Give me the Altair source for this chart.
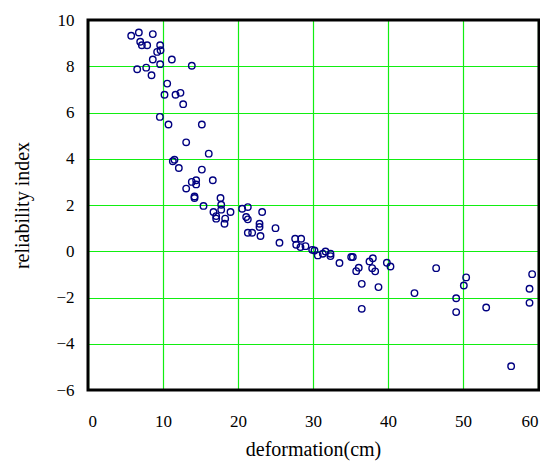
import altair as alt
import pandas as pd

deformation = [
    5.76, 6.78, 8.64, 6.96, 7.18, 7.89, 9.62, 9.67, 9.22, 8.64, 9.62, 11.18, 13.84,
    6.56, 7.76, 8.47, 10.56, 10.2, 11.67, 12.33, 12.69, 9.58, 10.73, 15.18,
    13.09, 16.1, 11.53, 11.31, 12.11, 15.18, 16.64, 13.84, 14.42, 14.42, 13.09,
    14.2, 14.2, 15.4, 17.67, 17.76, 17.76, 16.73, 17.09, 17.09, 18.29, 19.0, 18.2,
    20.56, 21.31, 21.09, 21.31, 23.22, 21.31, 21.89, 22.87, 22.87, 23.0, 25.0,
    25.53, 27.62, 28.42, 27.76, 28.33, 29.0, 29.89, 30.2, 30.64, 31.31, 31.67,
    32.33, 32.33, 33.53, 35.09, 35.31, 36.1, 35.76, 36.5, 36.5, 37.53, 37.98,
    37.89, 38.29, 38.73, 39.85, 40.33, 43.53, 46.42, 49.09, 49.09, 50.42, 50.11,
    53.09, 56.42, 59.22, 58.87, 58.87,
]
reliability = [
    9.32, 9.46, 9.39, 9.06, 8.91, 8.91, 8.91, 8.69, 8.62, 8.29, 8.09, 8.29, 8.02,
    7.87, 7.94, 7.61, 7.25, 6.77, 6.77, 6.85, 6.36, 5.81, 5.48, 5.48,
    4.71, 4.22, 3.96, 3.89, 3.6, 3.53, 3.07, 3.0, 3.07, 2.89, 2.71,
    2.37, 2.3, 1.96, 2.3, 2.01, 1.8, 1.7, 1.52, 1.41, 1.41, 1.7, 1.19,
    1.84, 1.91, 1.48, 1.38, 1.7, 0.8, 0.8, 1.19, 1.05, 0.66, 1.0,
    0.37, 0.54, 0.54, 0.28, 0.18, 0.22, 0.06, 0.03, -0.18, -0.11, -0.01,
    -0.11, -0.21, -0.51, -0.25, -0.25, -0.71, -0.86, -1.41, -2.49, -0.44, -0.3,
    -0.73, -0.87, -1.55, -0.5, -0.66, -1.81, -0.73, -2.03, -2.63, -1.13, -1.48,
    -2.43, -4.97, -0.99, -1.62, -2.23,
]

x_ticks = [0, 10, 20, 30, 40, 50, 60]
y_ticks = [-6, -4, -2, 0, 2, 4, 6, 8, 10]

df = pd.DataFrame({"deformation": deformation, "reliability": reliability})

font = "Liberation Serif"

points = (
    alt.Chart(df)
    .mark_point(shape="circle", filled=False, color="#000080", size=42, strokeWidth=1.4, opacity=1)
    .encode(
        x=alt.X(
            "deformation:Q",
            scale=alt.Scale(domain=[0, 60], nice=False, zero=False),
            axis=alt.Axis(
                title="deformation(cm)",
                values=x_ticks,
                labelFont=font,
                titleFont=font,
                labelPadding=23,
                titlePadding=10,
                ticks=False,
                domain=False,
            ),
        ),
        y=alt.Y(
            "reliability:Q",
            scale=alt.Scale(domain=[-6, 10], nice=False, zero=False),
            axis=alt.Axis(
                title="reliability index",
                values=y_ticks,
                labelFont=font,
                titleFont=font,
                labelPadding=14,
                titlePadding=23,
                ticks=False,
                domain=False,
            ),
        ),
    )
)

frame = (
    alt.Chart(pd.DataFrame({"a": [0]}))
    .mark_rect(filled=False, stroke="black", strokeWidth=3, fill=None)
    .encode(x=alt.value(0), x2=alt.value(451), y=alt.value(0), y2=alt.value(370))
)

chart = (
    alt.layer(points, frame)
    .properties(
        width=450,
        height=370,
        autosize=alt.AutoSizeParams(type="none"),
        padding={"left": 80, "top": 12, "right": 2, "bottom": 75},
    )
    .configure_view(stroke=None)
    .configure_axis(
        grid=True,
        gridColor="#11ee11",
        gridWidth=1.2,
        gridOpacity=1,
        labelFont=font,
        titleFont=font,
        labelFontSize=17,
        titleFontSize=20,
        titleFontWeight="normal",
        labelColor="black",
        titleColor="black",
    )
)

chart.save("out.html", embed_options={"renderer": "svg", "actions": False})
